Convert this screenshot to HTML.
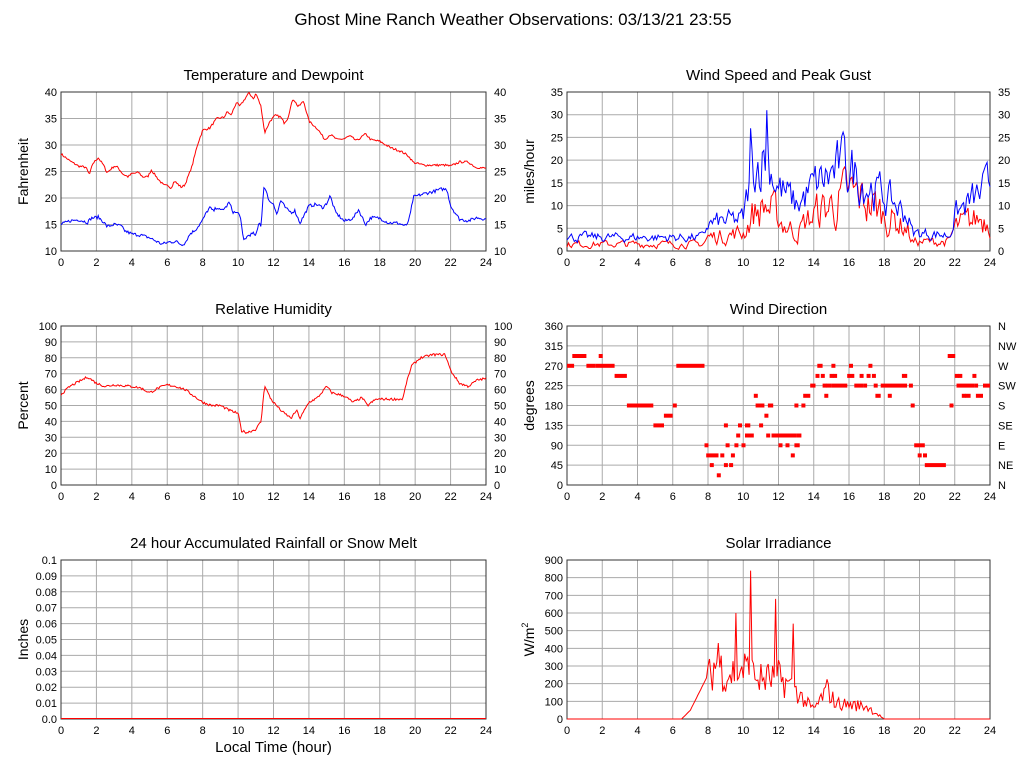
<!DOCTYPE html><html><head><meta charset="utf-8"><style>body{margin:0;background:#fff}svg{display:block;font-family:"Liberation Sans",sans-serif}</style></head><body>
<svg id="s" width="1027" height="772" xmlns="http://www.w3.org/2000/svg"></svg>
<script>
const S=document.getElementById('s');let h='';
h+=`<text x="513" y="25" font-size="17" text-anchor="middle">Ghost Mine Ranch Weather Observations: 03/13/21 23:55</text>`;
let seed=7;function rnd(){seed=(seed*16807)%2147483647;return seed/2147483647;}
function interp(k,t){for(let i=0;i<k.length-1;i++){if(t>=k[i][0]&&t<=k[i+1][0]){let f=(t-k[i][0])/(k[i+1][0]-k[i][0]||1);return k[i][1]+f*(k[i+1][1]-k[i][1]);}}return k[k.length-1][1];}
function panel(x0,x1,y0,y1,ymin,ymax,ystep,title,ylab,right,dec,rightLabels){
 let o=`<text x="${(x0+x1)/2}" y="${y0-12}" font-size="15" text-anchor="middle">${title}</text>`;
 for(let v=0;v<=24;v+=2){let x=x0+(x1-x0)*v/24;o+=`<line x1="${x}" x2="${x}" y1="${y0}" y2="${y1}" stroke="#aaa"/>`;o+=`<text x="${x}" y="${y1+15}" font-size="11" text-anchor="middle">${v}</text>`;}
 let n=Math.round((ymax-ymin)/ystep);
 for(let i=0;i<=n;i++){let v=ymin+i*ystep,y=y1-(y1-y0)*i/n;o+=`<line x1="${x0}" x2="${x1}" y1="${y}" y2="${y}" stroke="#aaa"/>`;
  let t=dec?v.toFixed(dec):v;if(dec&&i==0)t='0.0';if(dec&&i==n)t='0.1';
  o+=`<text x="${x0-4}" y="${y+4}" font-size="11" text-anchor="end">${t}</text>`;
  if(rightLabels)o+=`<text x="${x1+8}" y="${y+4}" font-size="11">${rightLabels[i]}</text>`;
  else if(right)o+=`<text x="${x1+8}" y="${y+4}" font-size="11">${t}</text>`;}
 o+=`<rect x="${x0}" y="${y0}" width="${x1-x0}" height="${y1-y0}" fill="none" stroke="#333"/>`;
 o+=`<text transform="translate(${x0-33},${(y0+y1)/2}) rotate(-90)" font-size="14" text-anchor="middle">${ylab}</text>`;
 return o;}
function line(x0,x1,y0,y1,ymin,ymax,fn,col,N){let p=[];for(let i=0;i<=N;i++){let t=24*i/N;let v=Math.max(ymin,Math.min(ymax,fn(t)));p.push((x0+(x1-x0)*t/24).toFixed(1)+','+(y1-(y1-y0)*(v-ymin)/(ymax-ymin)).toFixed(1));}return `<polyline points="${p.join(' ')}" fill="none" stroke="${col}" stroke-width="1"/>`;}
const L=[61,486],R=[567,990],Y1=[92,251],Y2=[326,485],Y3=[560,719];
h+=panel(L[0],L[1],Y1[0],Y1[1],10,40,5,'Temperature and Dewpoint','Fahrenheit',true);
const T=[[0,28.3],[0.5,27],[1,26],[1.4,25.8],[1.6,24.4],[1.8,26.5],[2.1,27.6],[2.4,26.2],[2.6,24.8],[3,26],[3.2,25.8],[3.5,24.5],[3.8,24],[4,24.6],[4.4,24.8],[4.6,24],[4.9,24],[5.1,25.3],[5.5,23.5],[5.8,22.4],[6.1,22.3],[6.2,21.8],[6.4,23.2],[6.8,22],[7,22.5],[7.4,26],[7.7,30],[8,32.8],[8.4,33.2],[8.8,35],[9.2,35.2],[9.4,36.3],[9.6,35.6],[9.9,38],[10.1,37.3],[10.4,38.8],[10.6,39.8],[10.9,38.7],[11,39.8],[11.3,37.2],[11.5,32.3],[11.8,34.5],[12.1,35.6],[12.4,35.3],[12.6,34.2],[12.8,35],[13.1,38.8],[13.4,37.2],[13.7,38.3],[14,34.5],[14.5,33],[14.9,31],[15.2,32],[15.6,31],[16,31.2],[16.3,31.7],[16.7,30.8],[17.2,32.1],[17.5,31],[18,30.7],[18.6,29.5],[19.2,28.8],[19.6,28],[19.9,26.7],[20.5,26.2],[21,26.2],[21.7,26.2],[22,26],[22.5,26.8],[23,26.8],[23.4,25.8],[24,25.6]];
const D=[[0,15],[0.5,15.7],[1,15.9],[1.5,15.4],[1.7,16.2],[2.1,16.4],[2.4,15.5],[2.6,14.6],[3,15],[3.4,14.7],[3.6,13.8],[4,13.2],[4.5,13],[5,12.5],[5.4,11.8],[5.7,11.3],[6.1,11.7],[6.5,11.8],[6.8,11.2],[7,11.5],[7.3,13.3],[7.6,14],[8,15.8],[8.2,17.2],[8.4,18.2],[8.6,17.5],[8.8,18.3],[9,17.6],[9.3,18.2],[9.5,19.2],[9.7,17.4],[10.1,17],[10.3,12],[10.6,13],[10.9,13.3],[11,12.7],[11.2,15.6],[11.3,14.6],[11.45,22.3],[11.8,19.2],[12,19],[12.2,16.8],[12.4,19.6],[12.7,18],[13,17.3],[13.2,17.6],[13.5,15.3],[14,18.5],[14.4,18.8],[14.8,18.2],[15,19],[15.2,20.4],[15.5,17.3],[16,15.6],[16.5,16.2],[16.8,17.8],[17.2,15],[17.5,16.3],[18,16.2],[18.5,15.3],[19,15.3],[19.5,14.7],[19.7,16.5],[19.9,20.2],[20.5,20.8],[21,21.2],[21.5,21.7],[21.8,21.6],[22,18.5],[22.5,16],[23,15.7],[23.5,16.3],[24,16]];
h+=line(L[0],L[1],Y1[0],Y1[1],10,40,t=>interp(T,t)+(rnd()-.5)*.4,'red',400);
h+=line(L[0],L[1],Y1[0],Y1[1],10,40,t=>interp(D,t)+(rnd()-.5)*.6,'blue',400);
h+=panel(R[0],R[1],Y1[0],Y1[1],0,35,5,'Wind Speed and Peak Gust','miles/hour',true);
const WA=[[0,1.5],[7.7,1.5],[8,3],[10,4],[10.5,8],[11.3,10],[12,7],[13,4],[14,8],[16,12],[17,11],[18,8],[19.3,5],[19.6,2],[21.7,2],[22,5],[24,8]];
const WG=[[0,3],[7.7,3],[8,6],[10,7],[10.5,18],[11.3,22],[12,14],[13,10],[14,14],[15.8,19],[17,15],[18,12],[19.3,8],[19.6,4],[21.7,3.5],[22,8],[24,14]];
let wa=0,wg=0;
h+=line(R[0],R[1],Y1[0],Y1[1],0,35,t=>{wa=wa*0.5+(rnd()-.5);return Math.max(0,interp(WA,t)*(1+wa*0.9));},'red',288);
h+=line(R[0],R[1],Y1[0],Y1[1],0,35,t=>{wg=wg*0.5+(rnd()-.5);let b=interp(WG,t);let v=b*(1+wg*0.6);if(Math.abs(t-11.33)<.05)v=31;if(Math.abs(t-10.42)<.05)v=27;if(Math.abs(t-15.75)<.05)v=25;return Math.max(0,v);},'blue',288);
h+=panel(L[0],L[1],Y2[0],Y2[1],0,100,10,'Relative Humidity','Percent',true);
const RH=[[0,57],[0.5,62],[1,65],[1.5,68],[2,64],[2.5,62],[3,63],[4,62],[4.5,61],[5,58],[5.5,61],[6,63],[6.5,62],[7,60],[7.5,56],[8,52],[8.5,50],[9,50],[9.5,47],[10,45],[10.2,34],[10.5,33],[11,35],[11.3,40],[11.5,63],[11.8,55],[12,52],[12.5,46],[13,42],[13.3,47],[13.5,42],[14,52],[14.5,55],[15,62],[15.3,58],[16,56],[16.5,52],[17,55],[17.3,50],[17.8,54],[18.5,54],[19.3,54],[19.5,64],[19.8,75],[20.3,80],[21,82],[21.7,82],[22,72],[22.5,64],[23,62],[23.5,66],[24,67]];
h+=line(L[0],L[1],Y2[0],Y2[1],0,100,t=>interp(RH,t)+(rnd()-.5)*1.5,'red',400);
h+=panel(R[0],R[1],Y2[0],Y2[1],0,360,45,'Wind Direction','degrees',false,0,['N','NE','E','SE','S','SW','W','NW','N']);
const WD=[[0,.4,270],[.3,1.1,292],[1.1,1.6,270],[1.8,1.85,292],[1.6,2.7,270],[2.7,3.4,247],[3.4,4.9,180],[4.9,5.5,135],[5.5,6,157],[6,6.2,180],[6.2,7.8,270],[7.8,8,90],[7.9,8.6,67],[8.1,8.2,45],[8.5,8.7,22],[8.7,8.8,67],[8.9,9,135],[8.9,9,45],[9,9.2,90],[9.2,9.4,45],[9.3,9.4,67],[9.5,9.6,90],[9.6,9.7,112],[9.7,9.9,135],[9.9,10.1,90],[10.1,10.4,135],[10.1,10.6,112],[10.6,10.7,202],[10.7,11.2,180],[10.9,11,135],[11.2,11.3,157],[11.3,11.4,112],[11.4,11.7,180],[11.6,13,112],[12,12.1,90],[12.4,12.5,90],[12.7,12.8,67],[12.9,13,180],[12.9,13.2,90],[13,13.3,112],[13.3,13.4,180],[13.4,13.8,202],[13.8,14.1,225],[14.1,14.2,247],[14.2,14.5,270],[14.4,14.5,247],[14.5,14.7,225],[14.6,14.7,202],[14.7,15,225],[14.9,15,247],[15,15.1,270],[15.1,15.2,247],[15,15.9,225],[15.9,16.3,247],[16,16.1,270],[16.3,16.8,225],[16.6,16.7,247],[16.8,17,225],[17,17.1,247],[17.1,17.3,270],[17.3,17.4,247],[17.4,17.5,225],[17.5,17.8,202],[17.8,19.3,225],[18.2,18.3,202],[19,19.3,247],[19.4,19.5,225],[19.5,19.7,180],[19.7,20.3,90],[19.9,20,67],[20.2,20.3,67],[20.3,21.5,45],[21.6,21.7,292],[21.7,21.8,180],[21.8,22,292],[22,22.1,247],[22.1,23.1,225],[22.2,22.3,247],[22.4,22.6,202],[22.6,22.9,202],[23,23.1,247],[23.1,23.2,225],[23.2,23.6,202],[23.6,24,225]];
let wd='';for(const [a,b,d] of WD){let x=R[0]+(R[1]-R[0])*a/24,w=Math.max(4,(R[1]-R[0])*(b-a)/24),y=Y2[1]-(Y2[1]-Y2[0])*d/360;wd+=`<rect x="${x.toFixed(1)}" y="${(y-2).toFixed(1)}" width="${w.toFixed(1)}" height="4" fill="red"/>`;}
h+=wd;
h+=panel(L[0],L[1],Y3[0],Y3[1],0,0.1,0.01,'24 hour Accumulated Rainfall or Snow Melt','Inches',false,2);
h+=`<line x1="${L[0]}" x2="${L[1]}" y1="${Y3[1]-0.5}" y2="${Y3[1]-0.5}" stroke="red"/>`;
h+=`<text x="${(L[0]+L[1])/2}" y="752" font-size="15" text-anchor="middle">Local Time (hour)</text>`;
h+=panel(R[0],R[1],Y3[0],Y3[1],0,900,100,'Solar Irradiance','',false);
h+=`<text transform="translate(${R[0]-33},${(Y3[0]+Y3[1])/2}) rotate(-90)" font-size="14" text-anchor="middle">W/m<tspan font-size="9" dy="-6">2</tspan></text>`;
const SO=[[0,0],[6.5,0],[7,50],[8,250],[8.5,360],[9,280],[10,320],[11,250],[12,260],[13,180],[13.5,110],[14,60],[14.8,190],[15.2,100],[16,90],[17,80],[17.5,40],[18,0],[24,0]];
h+=line(R[0],R[1],Y3[0],Y3[1],0,900,t=>{let b=interp(SO,t);let v=b>0?b*(0.5+rnd()*0.8):0;if(t<8)v=b;if(t>=8&&t<=14){if(Math.abs(t-9.6)<.05)v=600;if(Math.abs(t-10.42)<.05)v=840;if(Math.abs(t-11.83)<.05)v=680;if(Math.abs(t-12.83)<.05)v=540;if(Math.abs(t-8.58)<.05)v=430;}return v;},'red',288);
S.innerHTML=h;
</script></body></html>
